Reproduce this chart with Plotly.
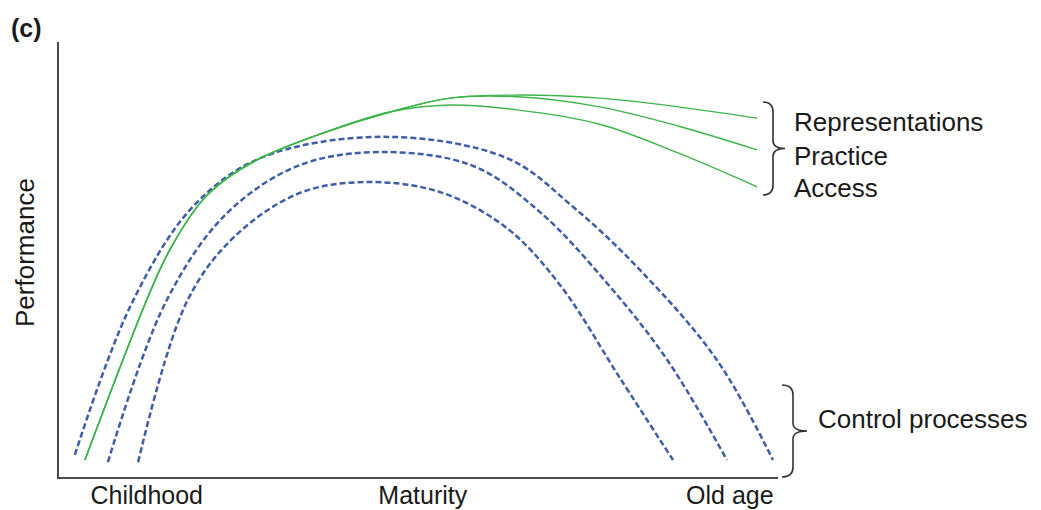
import plotly.graph_objects as go

# ---- data (age axis 0-100, performance 0-100) ----
control1_x = [2.2, 10.2, 18.6, 28.0, 45.1, 62.3, 71.5, 80.8, 91.5, 99.3]
control1_y = [5.1, 40.2, 62.1, 73.3, 78.2, 73.3, 62.1, 47.6, 26.9, 3.9]

control2_x = [6.8, 15.0, 23.4, 33.5, 45.1, 57.6, 66.9, 76.2, 84.6, 92.9]
control2_y = [3.4, 40.7, 60.7, 71.7, 74.7, 71.5, 60.9, 44.6, 26.9, 3.9]

control3_x = [11.0, 17.9, 24.5, 33.5, 42.8, 53.0, 62.3, 69.7, 78.0, 85.4]
control3_y = [3.4, 40.7, 55.4, 65.3, 67.8, 65.5, 57.2, 44.1, 22.8, 3.9]

trunk_x = [3.6, 12.2, 15.4, 20.0, 23.4, 28.0, 35.9, 46.0]
trunk_y = [3.9, 40.7, 52.2, 63.7, 68.7, 73.3, 78.6, 83.9]

repr_x = trunk_x + [54.4, 63.7, 75.2, 86.1, 97.1]
repr_y = trunk_y + [87.1, 87.8, 87.1, 85.1, 82.5]

prac_x = trunk_x + [54.4, 63.7, 75.2, 86.1, 97.1]
prac_y = trunk_y + [87.1, 87.4, 85.1, 80.7, 75.2]

acc_x = trunk_x + [54.4, 63.7, 75.2, 86.1, 97.1]
acc_y = trunk_y + [85.5, 84.4, 81.1, 74.5, 66.7]

tick_positions = [12.2, 50.6, 93.3]
tick_labels = ["Childhood", "Maturity", "Old age"]

knowledge_labels = ["Representations", "Practice", "Access"]
control_label = "Control processes"

# ---- layout geometry ----
W, H = 1041, 510
L, R, T, B = 59, 778, 42, 477

def px(x):
    return (x - L) / (R - L)

def py(y):
    return (B - y) / (B - T)

FONT = "Liberation Sans, Arial, sans-serif"
GREEN = "#3DB54A"
BLUE = "#3E5EA8"
TXT = "#1a1a1a"

fig = go.Figure()

for xs, ys in [(control1_x, control1_y), (control2_x, control2_y), (control3_x, control3_y)]:
    fig.add_trace(go.Scatter(x=xs, y=ys, mode="lines",
                             line=dict(color=BLUE, width=2.5, dash="6px,3px", shape="spline", smoothing=1.0),
                             hoverinfo="skip", showlegend=False))

for xs, ys in [(repr_x, repr_y), (prac_x, prac_y), (acc_x, acc_y)]:
    fig.add_trace(go.Scatter(x=xs, y=ys, mode="lines",
                             line=dict(color=GREEN, width=1.4, shape="spline", smoothing=1.0),
                             hoverinfo="skip", showlegend=False))

def brace(xl, xm, xt, y0, y1):
    ym = (y0 + y1) / 2
    r = 10
    pts = [
        f"M {px(xl)},{py(y0)}",
        f"Q {px(xm)},{py(y0)} {px(xm)},{py(y0 + r)}",
        f"L {px(xm)},{py(ym - 8)}",
        f"Q {px(xm)},{py(ym)} {px(xt)},{py(ym)}",
        f"Q {px(xm)},{py(ym)} {px(xm)},{py(ym + 8)}",
        f"L {px(xm)},{py(y1 - r)}",
        f"Q {px(xm)},{py(y1)} {px(xl)},{py(y1)}",
    ]
    return dict(type="path", path=" ".join(pts), xref="paper", yref="paper",
                line=dict(color="#333333", width=1.6))

shapes = [brace(763, 773, 785, 102, 195), brace(782, 793, 807, 385, 477)]

annotations = []
for lab, yy in zip(knowledge_labels, [122, 156, 188]):
    annotations.append(dict(text=lab, x=px(792), y=py(yy), xref="paper", yref="paper",
                            xanchor="left", yanchor="middle", showarrow=False,
                            font=dict(family=FONT, size=26, color=TXT)))
annotations.append(dict(text=control_label, x=px(816), y=py(419), xref="paper", yref="paper",
                        xanchor="left", yanchor="middle", showarrow=False,
                        font=dict(family=FONT, size=26, color=TXT)))
annotations.append(dict(text="Performance", x=px(25), y=py(253), xref="paper", yref="paper",
                        xanchor="center", yanchor="middle", showarrow=False, textangle=-90,
                        font=dict(family=FONT, size=26, color=TXT)))
annotations.append(dict(text="<b>(c)</b>", x=px(9), y=py(28), xref="paper", yref="paper",
                        xanchor="left", yanchor="middle", showarrow=False,
                        font=dict(family=FONT, size=25, color=TXT)))

fig.update_layout(
    width=W, height=H,
    margin=dict(l=L, r=W - R, t=T, b=H - B, autoexpand=False),
    paper_bgcolor="white", plot_bgcolor="white",
    shapes=shapes, annotations=annotations,
    xaxis=dict(range=[0, 100], showgrid=False, zeroline=False, showline=True,
               linecolor="#4a4a4a", linewidth=2, tickmode="array",
               tickvals=tick_positions, ticktext=tick_labels, ticks="", ticklen=0,
               ticklabelstandoff=-5,
               tickfont=dict(family=FONT, size=25, color=TXT), automargin=False, fixedrange=True),
    yaxis=dict(range=[0, 100], showgrid=False, zeroline=False, showline=True,
               linecolor="#4a4a4a", linewidth=2, showticklabels=False, ticks="",
               automargin=False, fixedrange=True),
)

fig.write_html("out.html", config={"displayModeBar": False},
               post_script="document.body.style.margin='0';document.body.style.overflow='hidden';")
